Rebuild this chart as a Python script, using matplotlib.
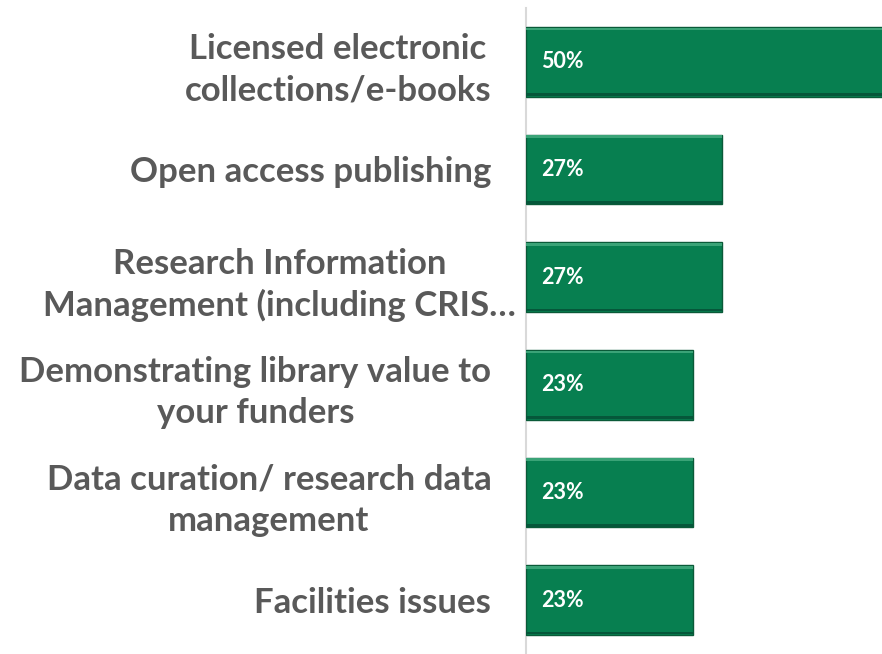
import matplotlib
matplotlib.use("Agg")
import matplotlib.pyplot as plt
import matplotlib.transforms as mtransforms

categories = [
    "Licensed electronic\ncollections/e-books",
    "Open access publishing",
    "Research Information\nManagement (including CRIS…",
    "Demonstrating library value to\nyour funders",
    "Data curation/ research data\nmanagement",
    "Facilities issues",
]
values = [0.50, 0.27, 0.27, 0.23, 0.23, 0.23]
value_labels = ["50%", "27%", "27%", "23%", "23%", "23%"]

fig = plt.figure(figsize=(8.82, 6.54), dpi=100)
ax = fig.add_axes([526/882, 0, 1 - 526/882, 646/654])

ypos = list(range(len(categories)))
bar_h = 0.65
green = "#077f50"

ax.barh(ypos, values, height=bar_h, color=green, edgecolor="#0a5a38", linewidth=1.0, zorder=3)
# bevel highlight / shade
ax.barh([y - bar_h/2 + 0.02 for y in ypos], values, height=0.025, color="#3aa377", linewidth=0, zorder=4)
ax.barh([y + bar_h/2 - 0.02 for y in ypos], values, height=0.025, color="#05573a", linewidth=0, zorder=4)

ax.set_xlim(0, 0.49)
ax.set_ylim(len(categories) - 0.5, -0.5)

for y, lab in zip(ypos, value_labels):
    ax.text(0.0205, y, lab, color="white", fontsize=15.5, fontweight="bold",
            family="Lato", va="center", ha="left", zorder=5)

ax.set_yticks(ypos)
ax.set_yticklabels(categories, fontsize=25, fontweight="bold", color="#595959",
                   family="Lato", multialignment="center", linespacing=1.36)
ax.tick_params(axis="y", length=0, pad=25)
ticklabels = ax.get_yticklabels()
ticklabels[2].set_transform(ticklabels[2].get_transform() +
                            mtransforms.ScaledTranslation(25/100, 0, fig.dpi_scale_trans))
ax.set_xticks([])
for s in ["top", "right", "bottom"]:
    ax.spines[s].set_visible(False)
ax.spines["left"].set_color("#d9d9d9")
ax.spines["left"].set_linewidth(1.5)

fig.savefig("out.png", dpi=100)
